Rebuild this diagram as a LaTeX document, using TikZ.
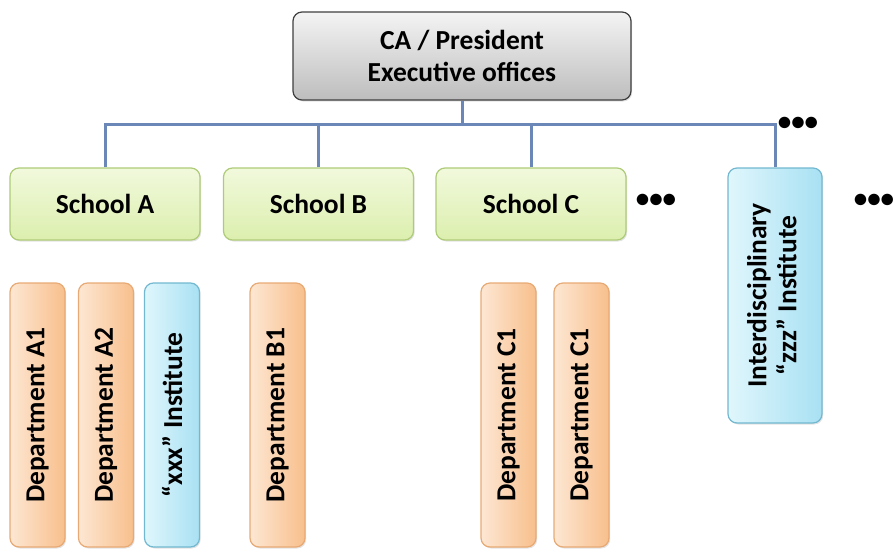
\documentclass[tikz,border=0pt]{standalone}
\usepackage{fontspec}
\setmainfont{Carlito}
\usepackage{graphicx}
\usetikzlibrary{shadows}
\definecolor{linec}{HTML}{6A87B8}
\definecolor{grayB}{HTML}{3F3F3F}
\definecolor{grayT}{HTML}{F4F4F4}
\definecolor{grayD}{HTML}{BDBDBD}
\definecolor{greenB}{HTML}{AECB78}
\definecolor{greenT}{HTML}{F1F9DC}
\definecolor{greenD}{HTML}{DCEFAE}
\definecolor{orB}{HTML}{E8AA75}
\definecolor{orL}{HTML}{FDE7D3}
\definecolor{orR}{HTML}{F8BF8C}
\definecolor{blB}{HTML}{72B8D0}
\definecolor{blL}{HTML}{E0F6FC}
\definecolor{blR}{HTML}{A8E1F3}
\tikzset{
  base/.style={rectangle, rounded corners=9pt, inner sep=0pt, line width=1.2pt,
    font=\fontsize{27.5}{32}\selectfont\bfseries, text=black,
    drop shadow={shadow xshift=1.2pt, shadow yshift=-1.5pt, opacity=0.22}},
  topbox/.style={base, draw=grayB, top color=grayT, bottom color=grayD, minimum width=338pt, minimum height=88pt, align=center},
  schoolbox/.style={base, draw=greenB, top color=greenT, bottom color=greenD, minimum width=190pt, minimum height=72pt},
  deptbox/.style={base, draw=orB, left color=orL, right color=orR, minimum width=55pt, minimum height=264pt},
  instbox/.style={base, draw=blB, left color=blL, right color=blR, minimum width=55pt, minimum height=264pt},
  conn/.style={draw=linec, line width=3pt},
  dots/.style={inner sep=0pt, font=\fontsize{27}{27}\selectfont\bfseries}
}
\begin{document}
\begin{tikzpicture}[x=1pt,y=-1pt]
\useasboundingbox (0,0) rectangle (895,549);
\clip (0,0) rectangle (895,549);
\node[topbox] (top) at (462,56) {CA / President\\Executive offices};
\node[schoolbox] (schA) at (105,204) {School A};
\node[schoolbox] (schB) at (318.5,204) {School B};
\node[schoolbox] (schC) at (531,204) {School C};
\node[instbox, minimum width=94pt, minimum height=255pt] (ins) at (775,295.5)
  {\rotatebox{90}{\begin{tabular}{@{}c@{}}Interdisciplinary\\[-2pt]“zzz” Institute\end{tabular}}};
\node[deptbox] (a1) at (37.5,415) {\rotatebox{90}{Department A1}};
\node[deptbox] (a2) at (106,415) {\rotatebox{90}{Department A2}};
\node[instbox] (xxx) at (172,415) {\rotatebox{90}{“xxx” Institute}};
\node[deptbox] (b1) at (277.5,415) {\rotatebox{90}{Department B1}};
\node[deptbox] (c1) at (508.5,415) {\rotatebox{90}{Department C1}};
\node[deptbox] (c2) at (581.5,415) {\rotatebox{90}{Department C1}};
\coordinate (bus) at (462,124);
\draw[conn] (schA.north) -- (schA.north |- bus) -| (ins.north);
\draw[conn] (top.south) -- (bus);
\draw[conn] (schB.north) -- (schB.north |- bus);
\draw[conn] (schC.north) -- (schC.north |- bus);
\node[dots] (d1) at (798,124) {•••};
\node[dots] (d2) at (656,201) {•••};
\node[dots] (d3) at (874,201) {•••};
\end{tikzpicture}
\end{document}
